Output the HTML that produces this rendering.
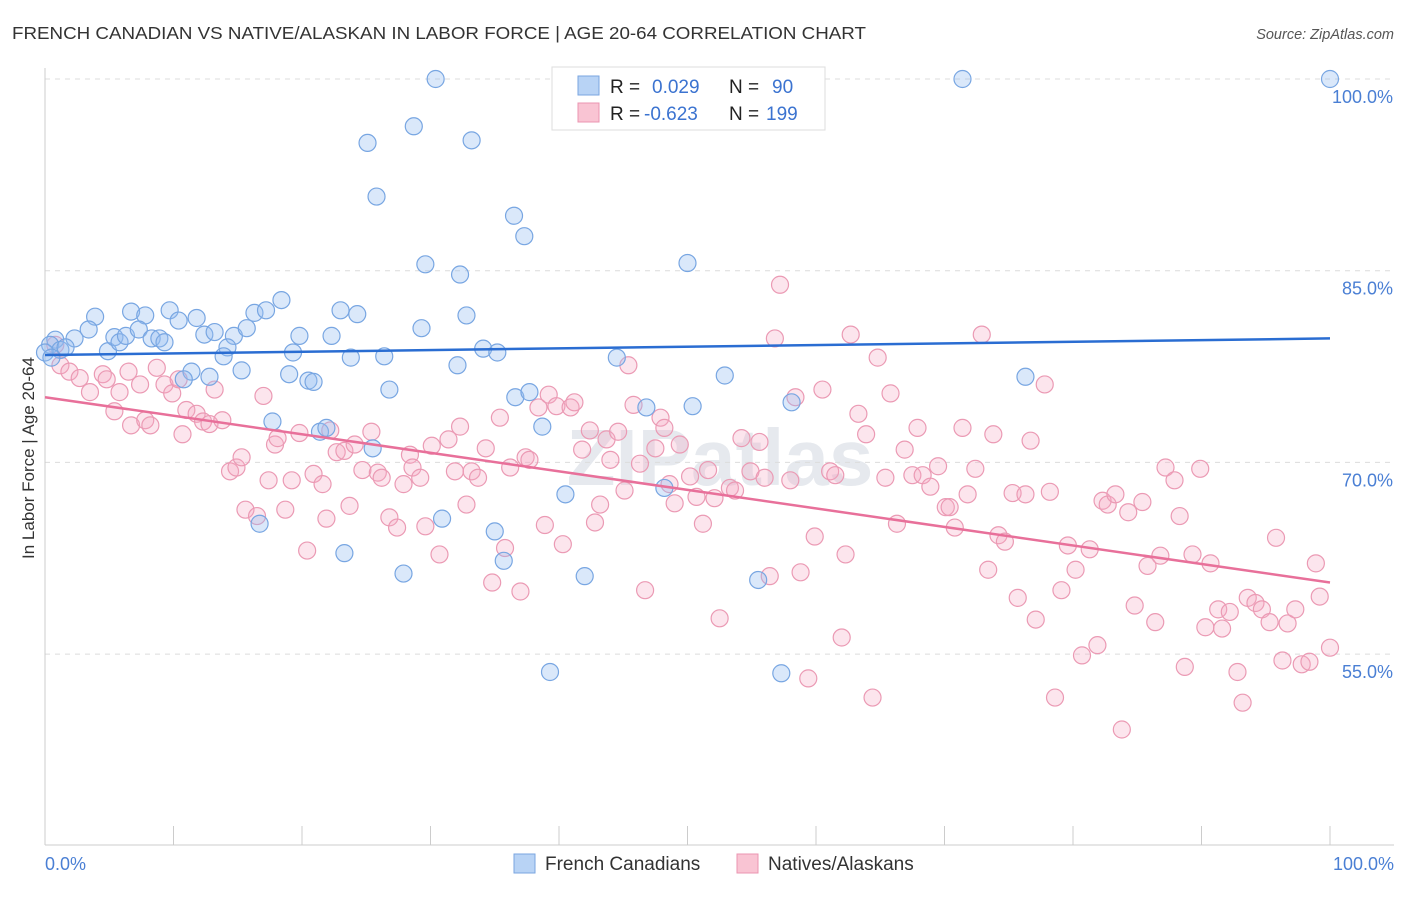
<!DOCTYPE html>
<html><head><meta charset="utf-8"><style>
body{margin:0;background:#fff;font-family:"Liberation Sans",sans-serif;}
svg text{font-family:"Liberation Sans",sans-serif;}
</style></head><body>
<svg id="c" width="1406" height="892" xmlns="http://www.w3.org/2000/svg">
<text x="12" y="39" font-size="17.5" fill="#333" textLength="854" lengthAdjust="spacingAndGlyphs">FRENCH CANADIAN VS NATIVE/ALASKAN IN LABOR FORCE | AGE 20-64 CORRELATION CHART</text>
<text x="1394" y="39" font-size="14.5" fill="#555" font-style="italic" text-anchor="end">Source: ZipAtlas.com</text>
<text x="720" y="485" font-size="80" fill="#e6e9ee" text-anchor="middle" font-weight="bold">ZIPatlas</text>
<text transform="translate(34,458) rotate(-90)" font-size="17" fill="#333" text-anchor="middle">In Labor Force | Age 20-64</text>
<g id="grid"></g><g id="pts"></g><g id="lines"></g>
<g>
<rect x="552" y="67" width="273" height="63" fill="#fff" stroke="#ddd"/>
<rect x="578" y="76" width="21" height="19" fill="#b8d3f5" stroke="#7aa6e0"/>
<rect x="578" y="103" width="21" height="19" fill="#f9c4d3" stroke="#eb95b0"/>
<text x="610" y="93" font-size="19" fill="#222">R = </text><text x="652" y="93" font-size="19" fill="#3b73d0">0.029</text>
<text x="729" y="93" font-size="19" fill="#222">N = </text><text x="772" y="93" font-size="19" fill="#3b73d0">90</text>
<text x="610" y="120" font-size="19" fill="#222">R = </text><text x="644" y="120" font-size="19" fill="#3b73d0">-0.623</text>
<text x="729" y="120" font-size="19" fill="#222">N = </text><text x="766" y="120" font-size="19" fill="#3b73d0">199</text>
</g>
<g>
<rect x="514" y="854" width="21" height="19" fill="#b8d3f5" stroke="#7aa6e0"/>
<text x="545" y="870" font-size="19" fill="#333">French Canadians</text>
<rect x="737" y="854" width="21" height="19" fill="#f9c4d3" stroke="#eb95b0"/>
<text x="768" y="870" font-size="19" fill="#333">Natives/Alaskans</text>
</g>
</svg>
<script>
const yTicks=[100,85,70,55];
const xTickLabels=["0.0%","100.0%"];
const blueX=[30.4,44.6,47.6,71.4,100,25.1,28.7,33.2,25.8,36.5,37.3,29.6,32.3,50.0,3.9,6.7,7.8,9.7,11.8,16.3,17.2,18.4,23.0,24.3,29.3,32.8,0.8,2.3,3.4,4.9,5.4,5.8,6.3,7.3,8.3,8.9,9.3,10.4,12.4,13.2,14.7,15.7,14.2,13.9,19.8,22.3,19.3,23.8,26.4,32.1,34.1,35.2,44.5,52.9,76.3,11.4,10.8,12.8,15.3,19.0,20.5,20.9,26.8,36.6,37.7,38.7,46.8,50.4,58.1,17.7,21.4,21.9,25.5,48.2,40.5,30.9,35.0,35.7,16.7,23.3,27.9,42.0,55.5,39.3,57.3,0.4,0,1.2,1.6,0.5];
const blueY=[100,100,100,100,100,95.0,96.3,95.2,90.8,89.3,87.7,85.5,84.7,85.6,81.4,81.8,81.5,81.9,81.3,81.7,81.9,82.7,81.9,81.6,80.5,81.5,79.6,79.7,80.4,78.7,79.8,79.4,79.9,80.4,79.7,79.7,79.4,81.1,80.0,80.2,79.9,80.5,79.0,78.3,79.9,79.9,78.6,78.2,78.3,77.6,78.9,78.6,78.2,76.8,76.7,77.1,76.5,76.7,77.2,76.9,76.4,76.3,75.7,75.1,75.5,72.8,74.3,74.4,74.7,73.2,72.4,72.7,71.1,68.0,67.5,65.6,64.6,62.3,65.2,62.9,61.3,61.1,60.8,53.6,53.5,79.2,78.6,78.8,79.0,78.2];
const pinkX=[0.8,1.2,1.9,2.7,3.5,4.5,4.8,5.4,5.8,6.5,6.7,7.4,7.8,8.2,8.7,9.3,9.9,10.4,10.7,11.0,11.8,12.3,12.8,13.2,13.8,14.4,14.9,15.3,15.6,16.5,17.0,17.4,17.9,18.1,18.7,19.2,19.8,20.4,20.9,21.6,21.9,22.2,22.7,23.3,23.7,24.1,24.7,25.4,25.9,26.2,26.8,27.4,27.9,28.4,28.6,29.2,29.6,30.1,30.7,31.4,31.9,32.3,32.8,33.2,33.7,34.3,34.8,35.4,35.8,36.2,37.0,37.4,37.7,38.4,38.9,39.2,39.8,40.3,40.9,41.2,41.8,42.4,42.8,43.2,43.7,44.0,44.6,45.1,45.4,45.8,46.3,46.7,47.5,47.9,48.2,48.6,49.0,49.4,50.2,50.7,51.2,51.6,52.1,52.5,53.3,53.7,54.2,54.9,55.6,56.0,56.4,56.8,57.2,58.0,58.4,58.8,59.4,59.9,60.5,61.1,61.5,62.0,62.3,62.7,63.3,63.9,64.4,64.8,65.4,65.8,66.3,66.9,67.5,67.9,68.3,68.9,69.5,70.1,70.4,70.8,71.4,71.8,72.4,72.9,73.4,73.8,74.2,74.7,75.3,75.7,76.3,76.7,77.1,77.8,78.2,78.6,79.1,79.6,80.2,80.7,81.3,81.9,82.3,82.7,83.3,83.8,84.3,84.8,85.4,85.8,86.4,86.8,87.2,87.9,88.3,88.7,89.3,89.9,90.3,90.7,91.3,91.6,92.2,92.8,93.2,93.6,94.2,94.7,95.3,95.8,96.3,96.7,97.3,97.8,98.4,98.9,99.2,100];
const pinkY=[79.2,77.6,77.1,76.6,75.5,76.9,76.5,74.0,75.5,77.1,72.9,76.1,73.3,72.9,77.4,76.1,75.4,76.5,72.2,74.1,73.8,73.2,73.0,75.7,73.3,69.3,69.6,70.4,66.3,65.8,75.2,68.6,71.4,71.9,66.3,68.6,72.3,63.1,69.1,68.3,65.6,72.5,70.8,70.9,66.6,71.4,69.4,72.4,69.2,68.8,65.7,64.9,68.3,70.6,69.6,68.8,65.0,71.3,62.8,71.8,69.3,72.8,66.7,69.3,68.8,71.1,60.6,73.5,63.3,69.6,59.9,70.4,70.2,74.3,65.1,75.3,74.4,63.6,74.3,74.7,71.0,72.5,65.3,66.7,71.8,70.2,72.4,67.8,77.6,74.5,69.9,60.0,71.1,73.5,72.7,68.3,66.8,71.4,68.9,67.3,65.2,69.4,67.2,57.8,68.0,67.8,71.9,69.3,71.6,68.8,61.1,79.7,83.9,68.6,75.1,61.4,53.1,64.2,75.7,69.3,69.0,56.3,62.8,80.0,73.8,72.2,51.6,78.2,68.8,75.4,65.2,71.0,69.0,72.7,69.0,68.1,69.7,66.5,66.5,64.9,72.7,67.5,69.5,80.0,61.6,72.2,64.3,63.8,67.6,59.4,67.5,71.7,57.7,76.1,67.7,51.6,60.0,63.5,61.6,54.9,63.2,55.7,67.0,66.7,67.5,49.1,66.1,58.8,66.9,61.9,57.5,62.7,69.6,68.6,65.8,54.0,62.8,69.5,57.1,62.1,58.5,57.0,58.3,53.6,51.2,59.4,59.0,58.5,57.5,64.1,54.5,57.4,58.5,54.2,54.4,62.1,59.5,55.5];
const blueTrend=[78.4,79.7];
const pinkTrend=[75.1,60.6];
const NS="http://www.w3.org/2000/svg";
const X=v=>45+v*12.85, Y=v=>79+(100-v)*12.78;
function mk(t,a,p){const e=document.createElementNS(NS,t);for(const k in a)e.setAttribute(k,a[k]);p.appendChild(e);return e;}
const grid=document.getElementById('grid');
yTicks.forEach(t=>{
 const l=mk('line',{x1:45,x2:1394,y1:Y(t),y2:Y(t),stroke:'#dcdcdc','stroke-dasharray':'5,5'},grid);
 
 
 const tx=mk('text',{x:1393,y:Y(t)+24,'font-size':18,fill:'#4a7fd4','text-anchor':'end'},grid);
 tx.textContent=t.toFixed(1)+'%';
 
 
});
mk('line',{x1:45,x2:45,y1:68,y2:845,stroke:'#ccc'},grid);
mk('line',{x1:45,x2:1394,y1:845,y2:845,stroke:'#ccc'},grid);
for(let i=0;i<=10;i++){const t=mk('line',{x1:X(i*10),x2:X(i*10),y1:826,y2:845,stroke:'#ccc'},grid);}
[[0,'start',X(0)],[1,'end',1394]].forEach(([i,a,x])=>{const t=mk('text',{x:x,y:870,'font-size':18,fill:'#4a7fd4','text-anchor':a},grid);t.textContent=xTickLabels[i];});
const pts=document.getElementById('pts');
pinkX.forEach((v,i)=>{const c=mk('circle',{cx:X(v),cy:Y(pinkY[i]),r:8.5,fill:'rgba(245,170,195,0.3)',stroke:'#eb9ab4','stroke-width':1.2},pts);
 
 });
blueX.forEach((v,i)=>{const c=mk('circle',{cx:X(v),cy:Y(blueY[i]),r:8.5,fill:'rgba(150,190,240,0.35)',stroke:'#78a6e2','stroke-width':1.2},pts);
 
 });
const lines=document.getElementById('lines');
const bl=mk('line',{x1:X(0),x2:X(100),y1:Y(blueTrend[0]),y2:Y(blueTrend[1]),stroke:'#2a6dd2','stroke-width':2.5},lines);


const pl=mk('line',{x1:X(0),x2:X(100),y1:Y(pinkTrend[0]),y2:Y(pinkTrend[1]),stroke:'#e8709a','stroke-width':2.5},lines);


</script>
</body></html>
